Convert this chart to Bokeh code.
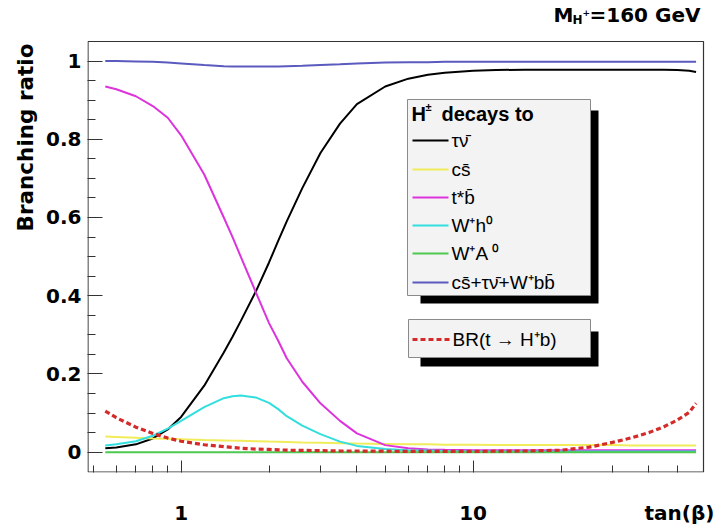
import numpy as np
from bokeh.plotting import figure
from bokeh.models import FixedTicker, Label, CustomJSTickFormatter, LogAxis, Title
from bokeh.embed import file_html
from bokeh.resources import INLINE

# ---------------- data ----------------
TANB = [0.55, 0.6, 0.7, 0.8, 0.9, 1.0, 1.2, 1.4, 1.5, 1.6, 1.8, 2.0, 2.15, 2.3, 2.6, 3.0, 3.5,
        4.0, 5.0, 6.0, 7.0, 8.0, 10, 12, 15, 20, 25, 30, 35, 40, 45, 50, 55, 58]

TAU_NU = [0.010, 0.012, 0.020, 0.035, 0.058, 0.090, 0.170, 0.255, 0.295, 0.335, 0.410, 0.485,
          0.540, 0.590, 0.675, 0.765, 0.840, 0.890, 0.935, 0.955, 0.965, 0.970, 0.975, 0.977,
          0.978, 0.978, 0.978, 0.978, 0.978, 0.978, 0.978, 0.977, 0.975, 0.972]

CS = [0.040, 0.039, 0.037, 0.035, 0.034, 0.033, 0.031, 0.030, 0.0295, 0.029, 0.028, 0.027,
      0.0265, 0.026, 0.025, 0.024, 0.023, 0.022, 0.021, 0.020, 0.020, 0.019, 0.019, 0.018,
      0.018, 0.018, 0.018, 0.018, 0.017, 0.017, 0.017, 0.017, 0.017, 0.017]

TB = [0.935, 0.928, 0.910, 0.885, 0.855, 0.810, 0.710, 0.600, 0.550, 0.500, 0.410, 0.330,
      0.285, 0.240, 0.180, 0.125, 0.080, 0.048, 0.018, 0.010, 0.007, 0.006, 0.005, 0.005,
      0.005, 0.005, 0.005, 0.005, 0.005, 0.005, 0.005, 0.005, 0.005, 0.005]

WH = [0.017, 0.020, 0.028, 0.042, 0.060, 0.080, 0.115, 0.138, 0.143, 0.145, 0.140, 0.126,
      0.110, 0.092, 0.068, 0.046, 0.027, 0.016, 0.008, 0.005, 0.004, 0.003, 0.002, 0.002,
      0.002, 0.002, 0.002, 0.002, 0.002, 0.002, 0.002, 0.002, 0.002, 0.002]

WA = [0.0] * len(TANB)

SUM = [1.000, 1.000, 0.999, 0.998, 0.996, 0.994, 0.990, 0.987, 0.986, 0.986, 0.986, 0.986,
       0.986, 0.987, 0.988, 0.990, 0.992, 0.994, 0.996, 0.997, 0.997, 0.998, 0.998, 0.998,
       0.998, 0.998, 0.998, 0.998, 0.998, 0.998, 0.998, 0.998, 0.998, 0.998]

BR_T = [0.105, 0.088, 0.064, 0.048, 0.036, 0.028, 0.019, 0.014, 0.012, 0.010, 0.008, 0.007,
        0.006, 0.005, 0.0045, 0.004, 0.003, 0.003, 0.0025, 0.002, 0.002, 0.002, 0.002, 0.0025,
        0.003, 0.005, 0.013, 0.025, 0.037, 0.050, 0.065, 0.082, 0.102, 0.125]

SERIES_LABELS = ["\u03c4\u03bd\u0304", "cs\u0304", "t*b\u0304", "W\u207ah\u2070", "W\u207aA \u2070",
                 "cs\u0304+\u03c4\u03bd\u0304+W\u207abb\u0304"]
BR_LABEL = "BR(t \u2192 H\u207ab)"

X_TICKS = [1, 10]
X_TICK_LABELS = ["1", "10"]
X_TITLE = "tan(\u03b2)"
X_MINOR = [0.5, 0.6, 0.7, 0.8, 0.9, 2, 3, 4, 5, 6, 7, 8, 9, 20, 30, 40, 50]
Y_TICKS = [0, 0.2, 0.4, 0.6, 0.8, 1.0]
Y_TICK_LABELS = ["0", "0.2", "0.4", "0.6", "0.8", "1"]
Y_MINOR = [0.05, 0.1, 0.15, 0.25, 0.3, 0.35, 0.45, 0.5, 0.55, 0.65, 0.7, 0.75, 0.85, 0.9, 0.95]
Y_TITLE = "Branching ratio"

# ---------------- layout ----------------
W, H = 719, 524
BL, BR, BT, BB = 87, 703, 41, 472          # plot box in pixels
X0, X1 = 0.478, 61.5                        # data range of the plot box
Y0, Y1 = -0.052, 1.05


def dx(px):
    return 10 ** (np.log10(X0) + (px - BL) / (BR - BL) * (np.log10(X1) - np.log10(X0)))


def dy(py):
    return Y0 + (BB - py) / (BB - BT) * (Y1 - Y0)


# frame spans from the plot box's left/bottom to the canvas' right/top edges
p = figure(frame_width=W - BL, frame_height=BB, x_axis_type="log",
           x_range=(X0, dx(W)), y_range=(Y0, dy(0)),
           output_backend="svg", toolbar_location=None, title=None,
           min_border_left=BL, min_border_right=0, min_border_top=0, min_border_bottom=0)
p.grid.visible = False
p.outline_line_color = None
p.background_fill_color = "white"
p.border_fill_color = "white"

AX = "#333333"
# x axis (ticks only)
xa = p.xaxis[0]
xa.ticker = FixedTicker(ticks=X_TICKS, minor_ticks=X_MINOR)
xa.formatter = CustomJSTickFormatter(code="return '';")
xa.major_label_text_font_size = "0px"
xa.major_label_standoff = 0
xa.major_tick_in = 12
xa.major_tick_out = 0
xa.minor_tick_in = 7
xa.minor_tick_out = 0
xa.axis_line_color = None
xa.major_tick_line_color = AX
xa.minor_tick_line_color = AX

# x axis (labels only)
xl = LogAxis(ticker=FixedTicker(ticks=X_TICKS + [dx(679)], minor_ticks=[]),
             formatter=CustomJSTickFormatter(args=dict(tl=X_TICK_LABELS + [X_TITLE]),
                                             code="return tl[index];"),
             axis_line_color=None, major_tick_line_color=None, minor_tick_line_color=None,
             major_tick_in=0, major_tick_out=0, minor_tick_in=0, minor_tick_out=0,
             major_label_standoff=28, major_label_text_font="DejaVu Sans",
             major_label_text_font_style="bold", major_label_text_font_size="20px",
             major_label_text_color="black")
p.add_layout(xl, "below")

# y axis
ya = p.yaxis[0]
ya.ticker = FixedTicker(ticks=Y_TICKS, minor_ticks=Y_MINOR)
ya.formatter = CustomJSTickFormatter(args=dict(tv=Y_TICKS, tl=Y_TICK_LABELS), code="""
    for (let i = 0; i < tv.length; i++) { if (Math.abs(tv[i] - tick) < 1e-9) { return tl[i]; } }
    return '';
""")
ya.major_label_text_font = "DejaVu Sans"
ya.major_label_text_font_style = "bold"
ya.major_label_text_font_size = "20px"
ya.major_label_text_color = "black"
ya.major_label_standoff = 6
ya.major_tick_in = 15
ya.major_tick_out = 0
ya.minor_tick_in = 8
ya.minor_tick_out = 0
ya.axis_line_color = None
ya.major_tick_line_color = AX
ya.minor_tick_line_color = AX

p.add_layout(Title(text=Y_TITLE, align="right", offset=43, standoff=11,
                   text_font="DejaVu Sans", text_font_style="bold", text_font_size="21.5px",
                   text_color="black"), "left")

# plot box outline
p.quad(left=[dx(BL + 0.5)], right=[dx(BR)], top=[dy(BT)], bottom=[dy(BB - 0.5)], fill_color=None,
       line_color=AX, line_width=1.2)

# ---------------- curves ----------------
COLORS = ["#000000", "#f0ec5a", "#dd33dd", "#33dede", "#4ec84e", "#5a5abf"]
SERIES = [TAU_NU, CS, TB, WH, WA, SUM]
for ys, c in zip(SERIES, COLORS):
    p.line(TANB, ys, line_color=c, line_width=2)
RED = "#d42a2a"
p.line(TANB, BR_T, line_color=RED, line_width=3.2, line_dash="5 3")


# ---------------- text helpers ----------------
def lab(px, py, text, size, bold=False, font="Liberation Sans", align="left", angle=0.0):
    p.add_layout(Label(x=dx(px), y=dy(py), text=text, text_font=font,
                       text_font_size=f"{size}px",
                       text_font_style="bold" if bold else "normal",
                       text_align=align, text_baseline="middle", angle=angle,
                       text_color="black"))


# ---------------- legend 1 ----------------
p.quad(left=[dx(420)], right=[dx(598)], top=[dy(110)], bottom=[dy(303)], fill_color="black", line_color=None)
p.quad(left=[dx(407)], right=[dx(590)], top=[dy(99)], bottom=[dy(295)], fill_color="#f3f3f3",
       line_color="#8a8a8a", line_width=1)
lab(411, 113, "H", 20, bold=True)
lab(425, 106, "\u00b1", 11, bold=True)
lab(441, 113, "decays to", 20, bold=True)
ROW_Y = [140, 169, 197, 225, 253, 282]
for ry, c, t in zip(ROW_Y, COLORS, SERIES_LABELS):
    p.line([dx(412), dx(448)], [dy(ry), dy(ry)], line_color=c, line_width=2)
    lab(451, ry, t, 19)

# ---------------- legend 2 ----------------
p.quad(left=[dx(420)], right=[dx(598)], top=[dy(331)], bottom=[dy(366)], fill_color="black", line_color=None)
p.quad(left=[dx(408)], right=[dx(590)], top=[dy(319)], bottom=[dy(357)], fill_color="#f3f3f3",
       line_color="#8a8a8a", line_width=1)
p.line([dx(412), dx(450)], [dy(339), dy(339)], line_color=RED, line_width=3.2, line_dash="5 3")
lab(452, 339, BR_LABEL, 19)

# ---------------- title ----------------
lab(553, 14, "M", 20, bold=True, font="DejaVu Sans")
lab(572, 19, "H", 12, bold=True, font="DejaVu Sans")
lab(582, 12, "+", 9, bold=True, font="DejaVu Sans")
lab(589, 14, "=160 GeV", 20, bold=True, font="DejaVu Sans")

open("out.html", "w").write(file_html(p, INLINE))
